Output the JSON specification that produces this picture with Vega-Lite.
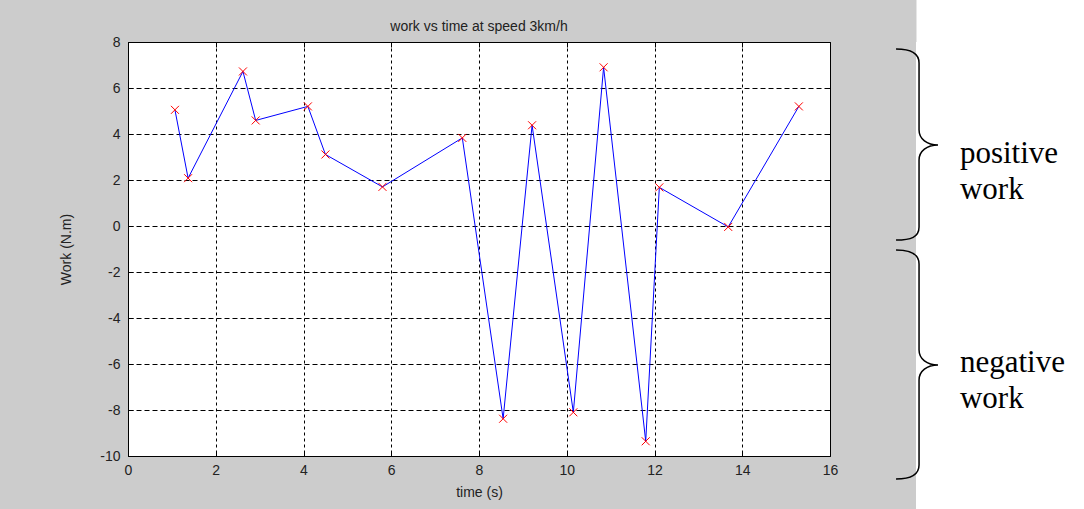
{
  "$schema": "https://vega.github.io/schema/vega-lite/v6.json",
  "background": "#cccccc",
  "padding": {"left": 59, "top": 0, "right": 0, "bottom": 0},
  "spacing": 54,
  "config": {
    "axis": {
      "labelFont": "Liberation Sans",
      "labelFontSize": 14,
      "labelColor": "#222222",
      "titleFont": "Liberation Sans",
      "titleFontSize": 14,
      "titleFontWeight": "normal",
      "titleColor": "#222222",
      "domain": false,
      "tickColor": "#000000",
      "tickWidth": 1,
      "labelOverlap": false,
      "labelFlush": false,
      "minExtent": 0
    }
  },
  "hconcat": [
    {
      "width": 702,
      "height": 414,
      "view": {"fill": "#ffffff", "stroke": "#000000", "strokeWidth": 1},
      "title": {
        "text": "work vs time at speed 3km/h",
        "font": "Liberation Sans",
        "fontSize": 14,
        "fontWeight": "normal",
        "color": "#222222",
        "baseline": "bottom",
        "offset": -13,
        "anchor": "middle",
        "frame": "group"
      },
      "data": {
        "values": [
          {"t": 1.07, "work": 5.05},
          {"t": 1.37, "work": 2.08},
          {"t": 2.62, "work": 6.72},
          {"t": 2.91, "work": 4.59},
          {"t": 4.10, "work": 5.20},
          {"t": 4.50, "work": 3.11},
          {"t": 5.80, "work": 1.70},
          {"t": 7.62, "work": 3.83},
          {"t": 8.55, "work": -8.38},
          {"t": 9.21, "work": 4.38},
          {"t": 10.15, "work": -8.10},
          {"t": 10.84, "work": 6.90},
          {"t": 11.80, "work": -9.36},
          {"t": 12.11, "work": 1.68},
          {"t": 13.68, "work": -0.04},
          {"t": 15.29, "work": 5.20}
        ]
      },
      "layer": [
        {
          "mark": {"type": "line", "color": "#0000ff", "strokeWidth": 1},
          "encoding": {
            "x": {
              "field": "t", "type": "quantitative",
              "scale": {"domain": [0, 16], "nice": false, "zero": false},
              "axis": {
                "orient": "bottom",
                "values": [0, 2, 4, 6, 8, 10, 12, 14, 16],
                "labelExpr": "'' + datum.value",
                "tickSize": -5,
                "labelPadding": 12,
                "grid": true,
                "gridColor": "#000000",
                "gridOpacity": 1,
                "gridDash": [3, 3],
                "title": "time (s)",
                "titlePadding": 8
              }
            },
            "y": {
              "field": "work", "type": "quantitative",
              "scale": {"domain": [-10, 8], "nice": false, "zero": false},
              "axis": {
                "orient": "left",
                "values": [-10, -8, -6, -4, -2, 0, 2, 4, 6, 8],
                "labelExpr": "'' + datum.value",
                "tickSize": -5,
                "labelPadding": 13,
                "grid": true,
                "gridColor": "#000000",
                "gridOpacity": 1,
                "gridDash": [5, 3],
                "title": "Work (N.m)",
                "titlePadding": 26
              }
            }
          }
        },
        {
          "mark": {
            "type": "point",
            "shape": "M-1,-1L1,1M-1,1L1,-1",
            "filled": false,
            "color": "#ff0000",
            "opacity": 1,
            "size": 64,
            "strokeWidth": 1
          },
          "encoding": {
            "x": {
              "field": "t", "type": "quantitative",
              "axis": {
                "orient": "top",
                "values": [0, 2, 4, 6, 8, 10, 12, 14, 16],
                "labels": false,
                "tickSize": -5,
                "grid": false,
                "title": null
              }
            },
            "y": {
              "field": "work", "type": "quantitative",
              "axis": {
                "orient": "right",
                "values": [-10, -8, -6, -4, -2, 0, 2, 4, 6, 8],
                "labels": false,
                "tickSize": -5,
                "grid": false,
                "title": null
              }
            }
          }
        }
      ],
      "resolve": {"axis": {"x": "independent", "y": "independent"}}
    },
    {
      "width": 169,
      "height": 467,
      "view": {"fill": "#ffffff", "stroke": null},
      "data": {
        "values": [
          {"region": "positive", "label": "positive\nwork", "brace_x": 0.018, "tip": 3.52, "text_x": 0.26, "text_y": 2.74},
          {"region": "negative", "label": "negative\nwork", "brace_x": 0.018, "tip": -6.04, "text_x": 0.26, "text_y": -6.35}
        ]
      },
      "layer": [
        {
          "transform": [{"filter": "datum.region === 'positive'"}],
          "mark": {
            "type": "point",
            "shape": "M-0.23,-0.96C-0.08,-0.96,0,-0.92,0,-0.82L0,-0.15C0,-0.06,0.08,0,0.19,0C0.08,0,0,0.06,0,0.15L0,0.82C0,0.92,-0.08,0.95,-0.23,0.95",
            "filled": false,
            "color": "#000000",
            "opacity": 1,
            "size": 40000,
            "strokeWidth": 1.5
          },
          "encoding": {
            "x": {
              "field": "brace_x", "type": "quantitative",
              "scale": {"domain": [0, 1], "nice": false, "zero": false},
              "axis": {
                "orient": "top",
                "offset": 42,
                "domain": true,
                "domainColor": "#ffffff",
                "domainWidth": 84,
                "domainCap": "butt",
                "ticks": false,
                "labels": false,
                "grid": false,
                "title": null
              }
            },
            "y": {"field": "tip", "type": "quantitative", "scale": {"domain": [-12.304, 8], "nice": false, "zero": false}, "axis": null}
          }
        },
        {
          "transform": [{"filter": "datum.region === 'negative'"}],
          "mark": {
            "type": "point",
            "shape": "M-0.23,-1.15C-0.08,-1.15,0,-1.11,0,-1.01L0,-0.15C0,-0.06,0.08,0,0.19,0C0.08,0,0,0.06,0,0.15L0,1.0C0,1.1,-0.08,1.14,-0.23,1.14",
            "filled": false,
            "color": "#000000",
            "opacity": 1,
            "size": 40000,
            "strokeWidth": 1.5
          },
          "encoding": {
            "x": {"field": "brace_x", "type": "quantitative"},
            "y": {"field": "tip", "type": "quantitative"}
          }
        },
        {
          "mark": {
            "type": "text",
            "align": "left",
            "baseline": "alphabetic",
            "font": "Liberation Serif",
            "fontSize": 31,
            "lineHeight": 36,
            "lineBreak": "\n",
            "color": "#000000"
          },
          "encoding": {
            "x": {"field": "text_x", "type": "quantitative"},
            "y": {"field": "text_y", "type": "quantitative"},
            "text": {"field": "label"}
          }
        }
      ]
    }
  ]
}
